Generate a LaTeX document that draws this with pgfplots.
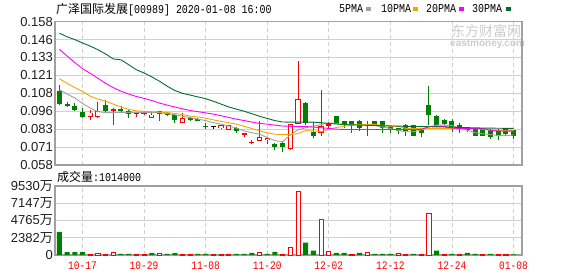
\documentclass[border=0pt]{standalone}
\usepackage{pgfplots}
\pgfplotsset{compat=1.18}
\usepackage{pgfplotstable}
\usepackage{fontspec}
\setmainfont{Liberation Sans}
\newfontfamily\cjk{Noto Sans CJK SC}
\newfontfamily\mono[FakeStretch=0.83]{Liberation Mono}
\definecolor{kred}{RGB}{255,0,0}
\definecolor{kgreen}{RGB}{0,128,0}
\definecolor{ma5}{RGB}{160,160,160}
\definecolor{ma10}{RGB}{245,165,0}
\definecolor{ma20}{RGB}{255,0,255}
\definecolor{ma30}{RGB}{0,110,45}
\definecolor{gridc}{RGB}{208,208,208}
\definecolor{framec}{RGB}{160,160,160}
\definecolor{wmark}{RGB}{205,205,205}

% red (up) candles: index open high low close
\pgfplotstableread{
i o h l c
4 0.0913 0.0962 0.0893 0.0946
5 0.0918 0.1018 0.0906 0.0955
7 0.0960 0.0975 0.0860 0.0972
10 0.0937 0.0950 0.0916 0.0948
11 0.0944 0.0958 0.0930 0.0946
12 0.0908 0.0958 0.0906 0.0932
13 0.0935 0.0960 0.0890 0.0958
16 0.0875 0.0944 0.0872 0.0905
21 0.0836 0.0858 0.0834 0.0856
22 0.0826 0.0858 0.0823 0.0856
24 0.0796 0.0800 0.0776 0.0800
25 0.0738 0.0752 0.0726 0.0741
26 0.0749 0.0886 0.0749 0.0777
27 0.0751 0.0767 0.0724 0.0765
30 0.0689 0.0867 0.0686 0.0867
31 0.0867 0.1307 0.0867 0.1041
34 0.0805 0.1106 0.0782 0.0854
35 0.0856 0.0881 0.0835 0.0868
40 0.0856 0.0886 0.0782 0.0869
}\upK
% green (down) candles
\pgfplotstableread{
i o h l c
0 0.1094 0.1140 0.1002 0.1008
1 0.1001 0.1018 0.0983 0.1000
2 0.0995 0.1013 0.0955 0.0962
3 0.0953 0.0976 0.0906 0.0913
6 0.0997 0.1031 0.0955 0.0960
8 0.0974 0.0990 0.0944 0.0955
9 0.0960 0.0972 0.0909 0.0934
14 0.0944 0.0948 0.0927 0.0930
15 0.0927 0.0944 0.0875 0.0892
17 0.0906 0.0912 0.0890 0.0893
18 0.0900 0.0905 0.0890 0.0892
19 0.0851 0.0872 0.0830 0.0850
23 0.0838 0.0842 0.0805 0.0818
28 0.0730 0.0732 0.0683 0.0705
29 0.0737 0.0740 0.0668 0.0703
32 0.1013 0.1020 0.0856 0.0874
33 0.0812 0.0881 0.0770 0.0781
36 0.0925 0.0925 0.0870 0.0872
37 0.0890 0.0890 0.0835 0.0858
38 0.0890 0.0890 0.0800 0.0869
39 0.0890 0.0892 0.0816 0.0840
41 0.0890 0.0890 0.0856 0.0856
42 0.0890 0.0890 0.0802 0.0840
43 0.0848 0.0850 0.0805 0.0821
44 0.0835 0.0837 0.0793 0.0818
45 0.0862 0.0866 0.0781 0.0816
46 0.0862 0.0862 0.0781 0.0781
47 0.0821 0.0823 0.0775 0.0805
48 0.1002 0.1133 0.0862 0.0927
49 0.0925 0.0930 0.0856 0.0862
50 0.0891 0.0900 0.0858 0.0869
51 0.0884 0.0900 0.0812 0.0844
52 0.0862 0.0874 0.0805 0.0848
53 0.0840 0.0842 0.0810 0.0828
54 0.0828 0.0830 0.0781 0.0781
55 0.0828 0.0830 0.0781 0.0781
56 0.0826 0.0828 0.0760 0.0775
57 0.0821 0.0828 0.0752 0.0781
58 0.0828 0.0830 0.0781 0.0798
59 0.0821 0.0823 0.0760 0.0781
}\dnK
\pgfplotstableread{
i o h l c
20 0.0850 0.0852 0.0830 0.0850
}\flatK
% moving averages
\pgfplotstableread{
i v
0 0.1106
1 0.1075
2 0.1048
3 0.1010
4 0.0978
5 0.0952
6 0.0946
7 0.0946
8 0.0947
9 0.0947
10 0.0947
11 0.0947
12 0.0946
13 0.0945
14 0.0938
15 0.0930
16 0.0920
17 0.0910
18 0.0900
19 0.0890
20 0.0875
21 0.0865
22 0.0852
23 0.0838
24 0.0818
25 0.0805
26 0.0795
27 0.0772
28 0.0750
29 0.0742
30 0.0790
31 0.0825
32 0.0840
33 0.0850
34 0.0862
35 0.0874
36 0.0870
37 0.0862
38 0.0862
39 0.0862
40 0.0860
41 0.0855
42 0.0845
43 0.0835
44 0.0822
45 0.0812
46 0.0812
47 0.0825
48 0.0845
49 0.0858
50 0.0858
51 0.0855
52 0.0838
53 0.0822
54 0.0805
55 0.0798
56 0.0792
57 0.0786
58 0.0785
59 0.0790
}\maA
\pgfplotstableread{
i v
0 0.1182
1 0.1150
2 0.1120
3 0.1094
4 0.1060
5 0.1040
6 0.1025
7 0.1005
8 0.0985
9 0.0968
10 0.0958
11 0.0955
12 0.0952
13 0.0950
14 0.0946
15 0.0940
16 0.0932
17 0.0921
18 0.0915
19 0.0907
20 0.0895
21 0.0885
22 0.0875
23 0.0865
24 0.0850
25 0.0835
26 0.0818
27 0.0805
28 0.0795
29 0.0792
30 0.0792
31 0.0800
32 0.0820
33 0.0818
34 0.0812
35 0.0830
36 0.0842
37 0.0850
38 0.0858
39 0.0862
40 0.0862
41 0.0862
42 0.0856
43 0.0850
44 0.0850
45 0.0836
46 0.0835
47 0.0835
48 0.0835
49 0.0835
50 0.0835
51 0.0835
52 0.0835
53 0.0835
54 0.0833
55 0.0830
56 0.0822
57 0.0821
58 0.0821
59 0.0821
}\maB
\pgfplotstableread{
i v
0 0.1388
1 0.1340
2 0.1295
3 0.1252
4 0.1220
5 0.1185
6 0.1150
7 0.1120
8 0.1095
9 0.1075
10 0.1058
11 0.1045
12 0.1030
13 0.1012
14 0.0998
15 0.0985
16 0.0972
17 0.0960
18 0.0952
19 0.0944
20 0.0935
21 0.0924
22 0.0912
23 0.0900
24 0.0890
25 0.0880
26 0.0870
27 0.0865
28 0.0858
29 0.0852
30 0.0850
31 0.0848
32 0.0848
33 0.0845
34 0.0840
35 0.0835
36 0.0830
37 0.0828
40 0.0828
44 0.0828
47 0.0828
48 0.0848
49 0.0850
50 0.0850
51 0.0838
52 0.0835
55 0.0835
56 0.0822
57 0.0818
58 0.0816
59 0.0816
}\maC
\pgfplotstableread{
i v
0 0.1500
1 0.1475
2 0.1455
3 0.1432
4 0.1410
5 0.1385
6 0.1355
7 0.1320
8 0.1314
9 0.1280
10 0.1245
11 0.1222
12 0.1195
13 0.1165
14 0.1130
15 0.1100
16 0.1080
17 0.1068
18 0.1055
19 0.1043
20 0.1025
21 0.1005
22 0.0985
23 0.0970
24 0.0955
25 0.0938
26 0.0920
27 0.0905
28 0.0890
29 0.0880
30 0.0879
33 0.0879
34 0.0875
35 0.0870
36 0.0866
37 0.0862
38 0.0860
40 0.0857
45 0.0850
50 0.0845
55 0.0838
59 0.0835
}\maD
% volume (in 10^4 shares)
\pgfplotstableread{
i v
0 3200
1 400
2 400
3 400
8 140
9 140
12 280
14 140
15 260
18 140
19 140
23 140
24 140
25 280
27 140
28 420
32 1715
33 600
36 280
37 280
39 280
41 140
42 140
43 140
46 140
49 600
51 140
53 280
54 140
56 140
59 101.4
}\volG
\pgfplotstableread{
i v
4 130
5 260
6 130
7 420
10 140
11 140
13 280
16 140
17 140
20 140
21 140
22 140
26 420
29 140
30 1070
31 8810
34 4870
35 560
38 140
40 420
44 280
45 140
47 140
48 5700
50 140
52 140
55 140
57 140
58 140
}\volR

\pgfplotsset{
  kax/.style={
    scale only axis, width=467pt, xmin=-0.57, xmax=60.1,
    axis line style={framec, line width=1.3pt},
    xtick={3,11,19,27,35,43,51,59},
    xmajorgrids, ymajorgrids,
    x grid style={gridc, line width=0.9pt, dash pattern=on 4pt off 3pt},
    y grid style={gridc, line width=1pt},
    major tick length=0pt,
    yticklabel style={anchor=east, inner sep=0pt, xshift=-2pt, font=\fontsize{13}{13}\selectfont, text={rgb,255:red,30;green,30;blue,30}},
  },
  wick/.style={only marks, mark=none, mark size=0pt, mark options={draw=none, fill=none}, forget plot,
    error bars/.cd, y dir=both, y explicit, error mark=none,
    error bar style={line width=0.9pt, draw=#1, solid}},
  body/.style 2 args={only marks, mark=none, mark size=0pt, mark options={draw=none, fill=none}, forget plot,
    error bars/.cd, y dir=both, y explicit, error mark=none,
    error bar style={line width=#2, draw=#1, solid}},
}

\begin{document}
\begin{tikzpicture}
\useasboundingbox (0pt,0pt) rectangle (578pt,276pt);
% watermark
\node[anchor=base west, inner sep=0pt, text=wmark] at (451pt,239.5pt) {\cjk\fontsize{14}{14}\selectfont 东方财富网};
\node[anchor=base west, inner sep=0pt, text=wmark] at (450pt,229pt) {\bfseries\fontsize{10}{10}\selectfont eastmoney.com};
% title
\node[anchor=base west, inner sep=0pt] at (56pt,262pt) {{\cjk\fontsize{12}{12}\selectfont 广泽国际发展}{\mono\fontsize{12}{12}\selectfont[00989] 2020-01-08 16:00}};
% legend
\node[anchor=base west, inner sep=0pt] at (339pt,263.3pt) {\mono\fontsize{12}{12}\selectfont 5PMA};
\fill[ma5] (366pt,265pt) rectangle (371pt,269pt);
\node[anchor=base west, inner sep=0pt] at (381pt,263.3pt) {\mono\fontsize{12}{12}\selectfont 10PMA};
\fill[ma10] (413pt,265pt) rectangle (418pt,269pt);
\node[anchor=base west, inner sep=0pt] at (426pt,263.3pt) {\mono\fontsize{12}{12}\selectfont 20PMA};
\fill[ma20] (459pt,265pt) rectangle (464pt,269pt);
\node[anchor=base west, inner sep=0pt] at (472pt,263.3pt) {\mono\fontsize{12}{12}\selectfont 30PMA};
\fill[ma30] (506pt,265pt) rectangle (511pt,269pt);
% volume caption
\node[anchor=base west, inner sep=0pt] at (57pt,95pt) {{\cjk\fontsize{12}{12}\selectfont 成交量}{\mono\fontsize{12}{12}\selectfont:1014000}};

% ---------------- price panel
\begin{axis}[kax, at={(55pt,111pt)}, anchor=south west, height=143.3pt,
  ymin=0.058, ymax=0.158,
  ytick={0.058,0.0705,0.083,0.0955,0.108,0.1205,0.133,0.1455,0.158},
  yticklabels={0.058,0.071,0.083,0.096,0.108,0.121,0.133,0.146,0.158},
  xticklabels={}]
% green candles
\addplot[wick=kgreen] table[x=i, y=c, y error plus expr=\thisrow{h}-\thisrow{c}, y error minus expr=\thisrow{c}-\thisrow{l}] {\dnK};
\addplot[body={kgreen}{5pt}] table[x=i, y expr=(\thisrow{o}+\thisrow{c})/2, y error expr={max((\thisrow{o}-\thisrow{c})/2,0.00036)}] {\dnK};
% flat candle
\addplot[wick=black] table[x=i, y=c, y error plus expr=\thisrow{h}-\thisrow{c}, y error minus expr=\thisrow{c}-\thisrow{l}] {\flatK};
\addplot[body={black}{5pt}] table[x=i, y=c, y error expr=0.00036] {\flatK};
% red candles (hollow)
\addplot[wick=kred] table[x=i, y=c, y error plus expr=\thisrow{h}-\thisrow{c}, y error minus expr=\thisrow{c}-\thisrow{l}] {\upK};
\addplot[body={kred}{5.2pt}] table[x=i, y expr=(\thisrow{o}+\thisrow{c})/2, y error expr={max((\thisrow{c}-\thisrow{o})/2,0.00036)}] {\upK};
\addplot[body={white}{3.4pt}] table[x=i, y expr=(\thisrow{o}+\thisrow{c})/2, y error expr={max((\thisrow{c}-\thisrow{o})/2-0.00064,0)}] {\upK};
% moving averages
\addplot[ma5, line width=0.9pt, mark=none] table[x=i, y=v] {\maA};
\addplot[ma10, line width=0.9pt, mark=none] table[x=i, y=v] {\maB};
\addplot[ma20, line width=0.9pt, mark=none] table[x=i, y=v] {\maC};
\addplot[ma30, line width=0.9pt, mark=none] table[x=i, y=v] {\maD};
\end{axis}

% ---------------- volume panel
\begin{axis}[kax, at={(55pt,21pt)}, anchor=south west, height=69pt,
  ymin=0, ymax=9530,
  ytick={0,2382.5,4765,7147.5,9530},
  yticklabels={0,2382{\cjk 万},4765{\cjk 万},7147{\cjk 万},9530{\cjk 万}},
  xticklabels={10-17,10-29,11-08,11-20,12-02,12-12,12-24,01-08},
  xticklabel style={anchor=north, inner sep=0pt, yshift=-7pt, font=\mono\fontsize{11.5}{11.5}\selectfont, text=kred}]
\addplot[ybar, bar width=5pt, bar shift=0pt, fill=kgreen, draw=none] table[x=i, y=v] {\volG};
\addplot[ybar, bar width=4.2pt, bar shift=0pt, fill=white, draw=kred, line width=0.8pt] table[x=i, y=v] {\volR};
\end{axis}
\end{tikzpicture}
\end{document}
